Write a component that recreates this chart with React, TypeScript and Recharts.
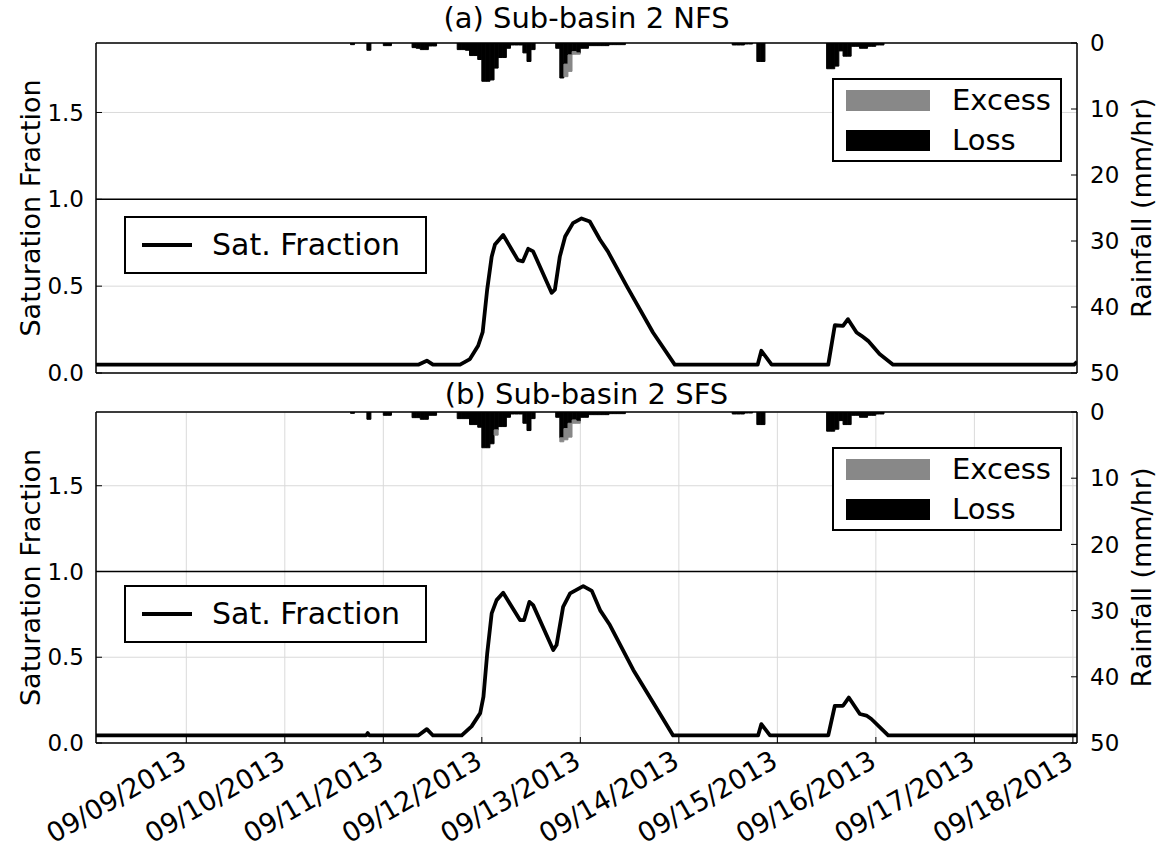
import React from 'react';
import {
  ComposedChart,
  Bar,
  Line,
  XAxis,
  YAxis,
  CartesianGrid,
  ReferenceLine,
  Legend,
} from 'recharts';

// time in hours since 09/08/2013 00:00
const dayTicks = [24, 48, 72, 96, 120, 144, 168, 192, 216, 240];
const dayLabels = [
  '09/09/2013', '09/10/2013', '09/11/2013', '09/12/2013', '09/13/2013',
  '09/14/2013', '09/15/2013', '09/16/2013', '09/17/2013', '09/18/2013',
];
const timeDomain = [2, 241];
const satTicks = [0, 0.5, 1.0, 1.5];
const rainTicks = [0, 10, 20, 30, 40, 50];

// saturation fraction, sub-basin 2 NFS
const satHoursA = [2, 80.5, 82.6, 84.1, 90.7, 93.1, 95.1, 96.2, 97.3, 98.4, 99.2, 101.2, 104.8, 106, 107.3, 108.5, 113, 113.8, 115, 116.3, 118.2, 120.3, 122.3, 124.8, 126.7, 131.3, 137.7, 143, 163.2, 164.1, 166.6, 180.4, 182, 184, 185.2, 187.3, 188.5, 190.1, 192.9, 196.2, 240.3, 241];
const satValuesA = [0.048, 0.048, 0.071, 0.048, 0.048, 0.08, 0.157, 0.235, 0.48, 0.67, 0.74, 0.795, 0.65, 0.643, 0.715, 0.7, 0.462, 0.48, 0.67, 0.786, 0.863, 0.89, 0.872, 0.767, 0.7, 0.5, 0.233, 0.048, 0.048, 0.128, 0.048, 0.048, 0.275, 0.271, 0.31, 0.233, 0.214, 0.185, 0.109, 0.048, 0.048, 0.065];

// saturation fraction, sub-basin 2 SFS
const satHoursB = [2, 67.8, 68.2, 68.6, 80.5, 82.6, 84.1, 91.1, 93.5, 95.6, 96.4, 97.3, 98.4, 99.6, 101.2, 105.3, 106.3, 107.6, 108.5, 113.4, 114.2, 115.8, 117.5, 120.7, 122.8, 124.8, 127.2, 132.9, 137.8, 142.6, 163.3, 164.1, 166.2, 180.4, 182, 184, 185.4, 188.1, 189.7, 190.9, 195, 241];
const satValuesB = [0.044, 0.044, 0.058, 0.044, 0.044, 0.081, 0.044, 0.044, 0.097, 0.174, 0.27, 0.52, 0.756, 0.833, 0.876, 0.717, 0.717, 0.823, 0.804, 0.542, 0.571, 0.794, 0.872, 0.915, 0.887, 0.775, 0.688, 0.426, 0.233, 0.044, 0.044, 0.11, 0.044, 0.044, 0.217, 0.217, 0.265, 0.169, 0.16, 0.14, 0.044, 0.044];

// hourly rainfall (hour of interval start), mm/hr
const rainHours = [64, 68, 72, 73, 79, 80, 81, 82, 83, 84, 90, 91, 92, 93, 94, 95, 96, 97, 98, 99, 100, 101, 102, 103, 104, 105, 106, 107, 108, 114, 115, 116, 117, 118, 119, 120, 121, 122, 123, 124, 125, 126, 127, 128, 129, 130, 157, 158, 159, 160, 161, 163, 164, 180, 181, 182, 183, 184, 185, 186, 187, 188, 189, 190, 191, 192, 193];
const lossA = [0.25, 1.1, 0.4, 0.4, 0.7, 0.8, 1.0, 1.0, 0.45, 0.45, 1.0, 1.0, 1.1, 1.9, 1.9, 2.5, 5.8, 5.8, 5.6, 3.8, 2.2, 2.2, 0.8, 0.3, 0.3, 0.3, 1.5, 2.8, 1.0, 0.8, 5.3, 3.2, 1.8, 1.3, 1.5, 0.8, 0.8, 0.4, 0.4, 0.4, 0.4, 0.4, 0.25, 0.25, 0.25, 0.25, 0.3, 0.3, 0.3, 0.15, 0.15, 2.8, 2.8, 3.9, 3.9, 3.5, 1.2, 2.0, 2.0, 0.5, 0.5, 0.8, 0.8, 0.5, 0.5, 0.3, 0.3];
const lossB = [0.2, 1.1, 0.5, 0.5, 0.85, 0.85, 1.1, 1.1, 0.5, 0.5, 1.0, 1.0, 1.0, 1.9, 1.9, 2.3, 5.4, 5.4, 4.8, 2.7, 2.2, 2.2, 0.8, 0.3, 0.3, 0.3, 1.7, 2.8, 1.0, 0.8, 3.9, 2.5, 1.7, 1.2, 1.4, 0.8, 0.8, 0.4, 0.4, 0.4, 0.4, 0.4, 0.25, 0.25, 0.25, 0.25, 0.3, 0.3, 0.3, 0.15, 0.15, 1.9, 1.9, 2.9, 2.9, 2.6, 1.3, 1.9, 1.9, 0.5, 0.5, 0.8, 0.8, 0.5, 0.5, 0.3, 0.3];
const excessHoursA = [116, 117, 118, 119];
const excessA = [1.9, 2.5, 0.4, 0.2];
const excessHoursB = [99, 115, 116, 117, 118, 119];
const excessB = [0.8, 0.6, 1.7, 2.1, 0.5, 0.3];

const FONT = 'DejaVu Sans, sans-serif';

function buildSat(hours: number[], values: number[]) {
  return hours.map((t, i) => ({ t, sat: values[i] }));
}

function buildRain(hours: number[], loss: number[], exHours: number[], excess: number[]) {
  return hours.map((h, i) => {
    const k = exHours.indexOf(h);
    return { t: h + 0.5, loss: loss[i], excess: k >= 0 ? excess[k] : 0 };
  });
}

function DateTick({ x, y, payload }: any) {
  const i = dayTicks.indexOf(payload.value);
  const yy = y + 23;
  return (
    <text x={x + 2} y={yy} textAnchor="end" fontSize={27} fill="#000" fontFamily={FONT}
      transform={`rotate(-30 ${x + 2} ${yy})`}>
      {dayLabels[i]}
    </text>
  );
}

function AxisTitle({ viewBox, text, cx, rot }: any) {
  const cy = viewBox.y + viewBox.height / 2;
  return (
    <text x={cx} y={cy} textAnchor="middle" dominantBaseline="central" fontSize={27}
      fill="#000" fontFamily={FONT} transform={`rotate(${rot} ${cx} ${cy})`}>
      {text}
    </text>
  );
}

function RainLegend({ payload }: any) {
  const list = payload || [];
  const items = ['Excess', 'Loss']
    .map((n) => list.find((p: any) => p.value === n))
    .filter(Boolean);
  return (
    <div style={{ border: '2px solid #000', background: '#fff', width: 230, height: 84,
      boxSizing: 'border-box', padding: '0 0 0 12px', fontFamily: FONT }}>
      {items.map((it: any) => (
        <div key={it.value} style={{ display: 'flex', alignItems: 'center', height: 40 }}>
          <span style={{ width: 84, height: 21, background: it.color, display: 'inline-block' }} />
          <span style={{ marginLeft: 22, fontSize: 29, lineHeight: '30px' }}>{it.value}</span>
        </div>
      ))}
    </div>
  );
}

function SatLegend({ payload }: any) {
  const it = (payload || [])[0];
  return (
    <div style={{ border: '2px solid #000', background: '#fff', width: 303, height: 58,
      boxSizing: 'border-box', display: 'flex', alignItems: 'center', paddingLeft: 16, fontFamily: FONT }}>
      <span style={{ width: 50, height: 4, background: '#000', display: 'inline-block' }} />
      <span style={{ marginLeft: 20, fontSize: 30, lineHeight: '30px' }}>{it ? it.value : ''}</span>
    </div>
  );
}

const W = 1164;

interface PanelProps {
  title: string;
  titleY: number;
  top: number;
  height: number;
  plotBottom: number;
  xAxisHeight: number;
  showDates: boolean;
  satMax: number;
  sat: Array<{ t: number; sat: number }>;
  rain: Array<{ t: number; loss: number; excess: number }>;
}

function Panel({ title, titleY, top, height, plotBottom, xAxisHeight, showDates, satMax, sat, rain }: PanelProps) {
  return (
    <div style={{ position: 'absolute', left: 0, top, width: W, height }}>
      <div style={{ position: 'absolute', left: 0, top: 0 }}>
        <ComposedChart width={W} height={height} data={rain} barCategoryGap={0}
          margin={{ top: 43, left: 36, right: 27, bottom: height - plotBottom - xAxisHeight }}>
          <CartesianGrid yAxisId="sat" stroke="#dadada" strokeWidth={1} />
          <XAxis dataKey="t" type="number" domain={timeDomain} ticks={dayTicks} interval={0}
            allowDataOverflow height={xAxisHeight} tickSize={-6} tickMargin={6}
            axisLine={{ stroke: '#000', strokeWidth: 1.5 }} tickLine={{ stroke: '#000' }}
            tick={showDates ? <DateTick /> : false} />
          <YAxis yAxisId="sat" orientation="left" width={60} domain={[0, satMax]} ticks={satTicks}
            interval={0} allowDataOverflow tickFormatter={(v) => Number(v).toFixed(1)} tickSize={-6} tickMargin={18}
            axisLine={{ stroke: '#000', strokeWidth: 1.5 }} tickLine={{ stroke: '#000' }}
            tick={{ fontSize: 23, fill: '#000', fontFamily: FONT }}
            label={<AxisTitle text="Saturation Fraction" cx={30} rot={-90} />} />
          <YAxis yAxisId="rain" orientation="right" width={60} domain={[0, 50]} reversed ticks={rainTicks}
            interval={0} allowDataOverflow tickSize={-6} tickMargin={19}
            axisLine={{ stroke: '#000', strokeWidth: 1.5 }} tickLine={{ stroke: '#000' }}
            tick={{ fontSize: 23, fill: '#000', fontFamily: FONT }}
            label={<AxisTitle text="Rainfall (mm/hr)" cx={1141} rot={-90} />} />
          <ReferenceLine yAxisId="sat" y={1} stroke="#000" strokeWidth={1.5} />
          <ReferenceLine yAxisId="sat" y={satMax} stroke="#000" strokeWidth={1.5} />
          <Bar yAxisId="rain" dataKey="loss" name="Loss" stackId="r" fill="#000" stroke="#000"
            strokeWidth={1} isAnimationActive={false} />
          <Bar yAxisId="rain" dataKey="excess" name="Excess" stackId="r" fill="#888888" stroke="#888888"
            strokeWidth={1} isAnimationActive={false} />
          <Legend layout="horizontal" verticalAlign="middle" align="center"
            wrapperStyle={{ left: 832, top: 78, width: 230, height: 84 }}
            content={<RainLegend />} />
        </ComposedChart>
      </div>
      <div style={{ position: 'absolute', left: 0, top: 0 }}>
        <ComposedChart width={W} height={height} data={sat}
          margin={{ top: 43, left: 96, right: 87, bottom: height - plotBottom }}>
          <XAxis dataKey="t" type="number" domain={timeDomain} allowDataOverflow hide />
          <YAxis yAxisId="sat" domain={[0, satMax]} allowDataOverflow hide />
          <Line yAxisId="sat" dataKey="sat" name="Sat. Fraction" type="linear" stroke="#000"
            strokeWidth={3.8} dot={false} strokeLinejoin="round" isAnimationActive={false} />
          <Legend layout="horizontal" verticalAlign="middle" align="center"
            wrapperStyle={{ left: 124, top: 216, width: 303, height: 58 }}
            content={<SatLegend />} />
        </ComposedChart>
      </div>
      <div style={{ position: 'absolute', left: 96, top: titleY - 16, width: 981, textAlign: 'center',
        fontSize: 29, lineHeight: '32px', fontFamily: FONT, whiteSpace: 'nowrap' }}>
        {title}
      </div>
    </div>
  );
}

export default function App() {
  return (
    <div style={{ position: 'absolute', left: 0, top: 0, width: W, height: 860, background: '#fff', fontFamily: FONT }}>
      <Panel title="(a) Sub-basin 2 NFS" titleY={18} top={0} height={392} plotBottom={373} xAxisHeight={5}
        showDates={false} satMax={1.9} sat={buildSat(satHoursA, satValuesA)}
        rain={buildRain(rainHours, lossA, excessHoursA, excessA)} />
      <Panel title="(b) Sub-basin 2 SFS" titleY={25} top={369} height={491} plotBottom={374} xAxisHeight={117}
        showDates satMax={1.93} sat={buildSat(satHoursB, satValuesB)}
        rain={buildRain(rainHours, lossB, excessHoursB, excessB)} />
    </div>
  );
}
